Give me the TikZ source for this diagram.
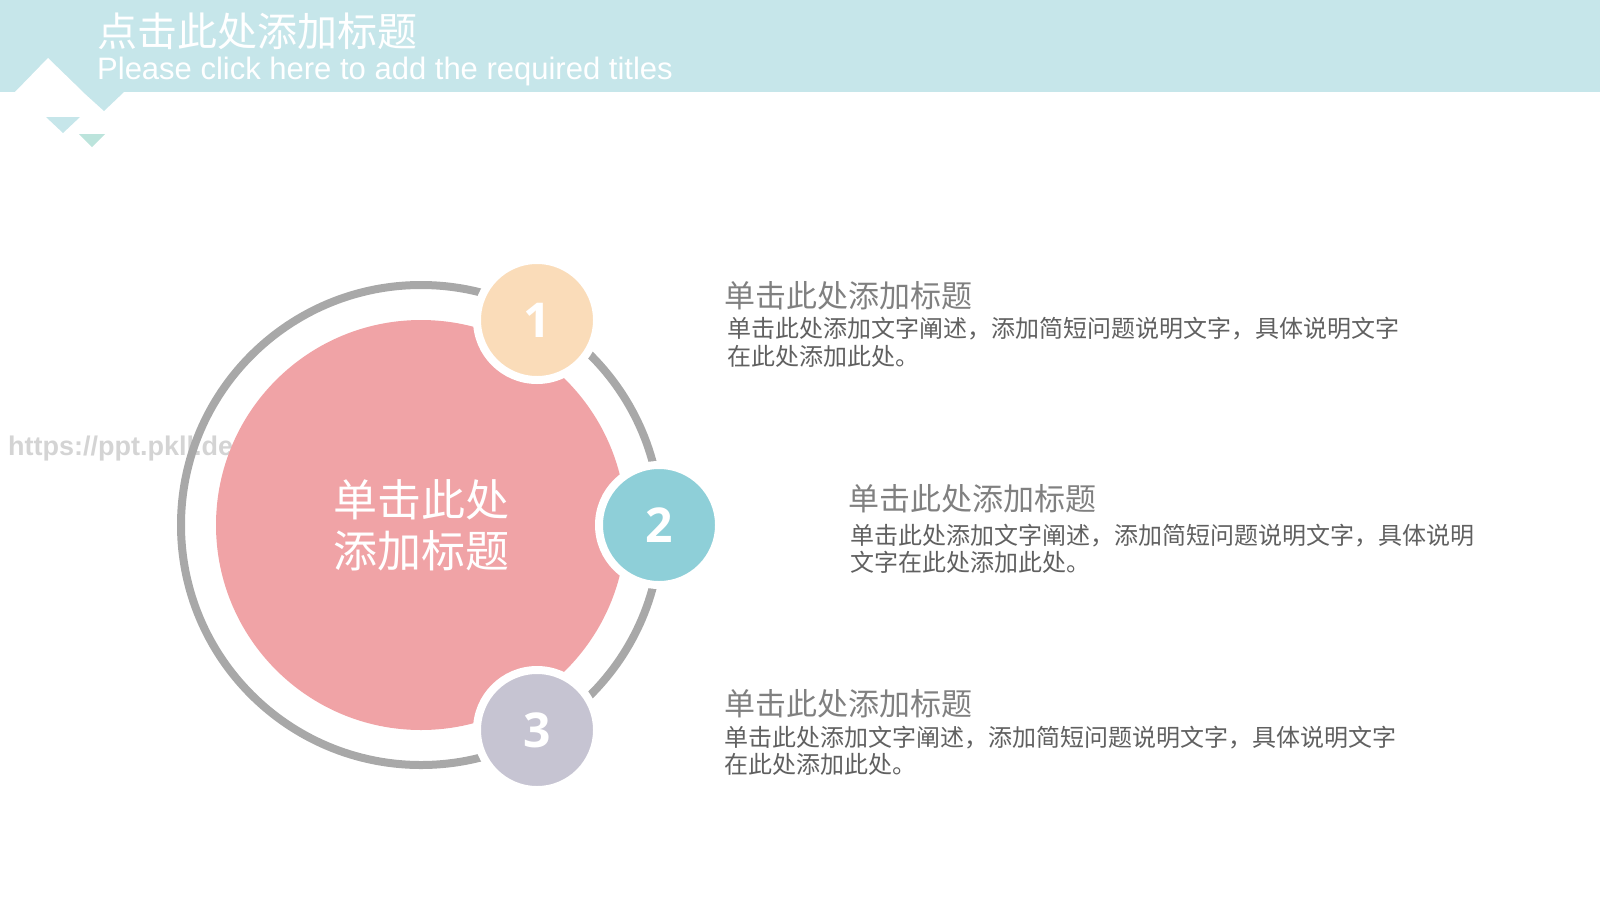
\documentclass[tikz,border=0pt]{standalone}
\usepackage{fontspec}
\setmainfont{Liberation Sans}
\newfontfamily\cjk{Noto Sans CJK SC}
\newfontfamily\numfont{Open Sans}

\definecolor{band}{HTML}{C6E6EA}
\definecolor{mint}{HTML}{BCE4DC}
\definecolor{ringgray}{HTML}{A8A8A8}
\definecolor{hubpink}{HTML}{F0A3A6}
\definecolor{peach}{HTML}{FADCB9}
\definecolor{dotteal}{HTML}{8ECFD8}
\definecolor{lavender}{HTML}{C6C4D2}
\definecolor{titlegray}{HTML}{808080}
\definecolor{bodygray}{HTML}{606060}
\definecolor{markgray}{HTML}{D4D4D4}

\tikzset{
  ring/.style={draw=ringgray, line width=8pt},
  hub/.style={circle, fill=hubpink, minimum size=410pt, inner sep=0pt,
    text=white, align=center, font=\cjk\fontsize{44}{51}\selectfont},
  badge/.style={circle, draw=white, line width=8pt, minimum size=120pt,
    inner sep=0pt, text=white, font=\numfont\bfseries\fontsize{48}{48}\selectfont},
  blocktitle/.style={anchor=base west, inner sep=0pt, text=titlegray,
    font=\cjk\fontsize{31}{36}\selectfont},
  blockbody/.style={anchor=base west, inner sep=0pt, text=bodygray,
    font=\cjk\fontsize{24}{28}\selectfont},
}

\begin{document}
\begin{tikzpicture}[x=1pt,y=-1pt]
\useasboundingbox (0,0) rectangle (1600,900);
% header band
\fill[band] (0,0) rectangle (1600,92);
\fill[white] (15,92) -- (48,58) -- (83,92) -- cycle;
\fill[band] (83,92) -- (124,92) -- (104,111) -- cycle;
\fill[band] (46,117) -- (80,117) -- (63,133) -- cycle;
\fill[mint] (79,134) -- (105,134) -- (92,147) -- cycle;
\node[anchor=base west, inner sep=0pt, text=white, font=\cjk\fontsize{40}{48}\selectfont]
  (head) at (97,46) {点击此处添加标题};
\node[anchor=base west, inner sep=0pt, text=white, font=\fontsize{31}{36}\selectfont]
  (sub) at (97,79) {Please click here to add the required titles};

\node[anchor=west, inner sep=0pt, text=markgray, font=\bfseries\fontsize{27}{30}\selectfont]
  (mark) at (8,449) {https://ppt.pkll.de};

% circles
\coordinate (o) at (421,525);
\draw[ring] (o) circle (240pt);
\node[hub] (hub) at (o) {单击此处\\添加标题};
\node[badge, fill=peach] (n1) at (537,320) {1};
\node[badge, fill=dotteal] (n2) at (659,525) {2};
\node[badge, fill=lavender] (n3) at (537,730) {3};

% texts
\node[blocktitle] (t1) at (724,307) {单击此处添加标题};
\node[blockbody] (b1) at (727,337) {单击此处添加文字阐述，添加简短问题说明文字，具体说明文字};
\node[blockbody] (c1) at (727,365) {在此处添加此处。};

\node[blocktitle] (t2) at (848,510) {单击此处添加标题};
\node[blockbody] (b2) at (850,544) {单击此处添加文字阐述，添加简短问题说明文字，具体说明};
\node[blockbody] (c2) at (850,571) {文字在此处添加此处。};

\node[blocktitle] (t3) at (724,715) {单击此处添加标题};
\node[blockbody] (b3) at (724,746) {单击此处添加文字阐述，添加简短问题说明文字，具体说明文字};
\node[blockbody] (c3) at (724,773) {在此处添加此处。};
\end{tikzpicture}
\end{document}
